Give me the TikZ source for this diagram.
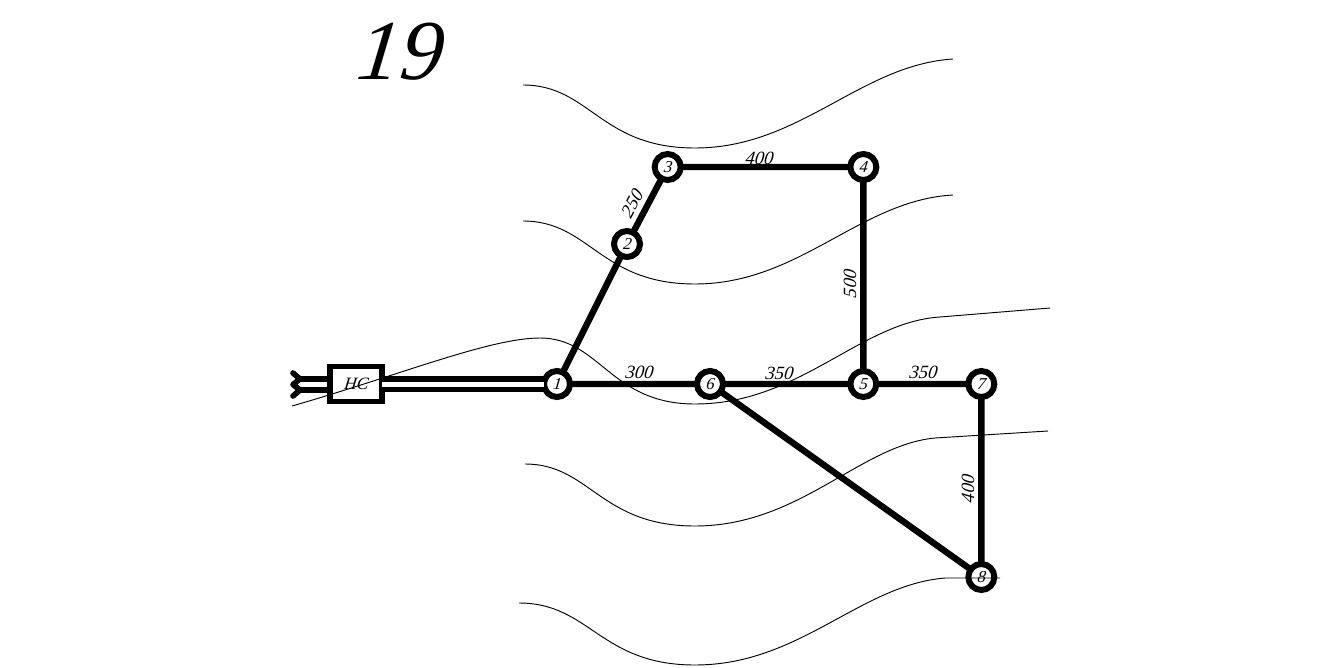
\documentclass[tikz,border=0pt]{standalone}
\usepackage{fontspec}
\setmainfont[ItalicFeatures={FakeSlant=0.12}]{Liberation Serif}
\usetikzlibrary{positioning}
\tikzset{
    vtx/.style={circle,draw,fill=white,line width=4.5pt,minimum size=19.5pt,inner sep=0pt,outer sep=0pt,font=\fontsize{12.5pt}{12.5pt}\selectfont\itshape},
    pipe/.style={line width=4.8pt},
    lbl/.style={font=\fontsize{14pt}{14pt}\selectfont\itshape,inner sep=0pt},
    contour/.style={line width=0.7pt},
    station/.style={rectangle,draw,line width=4pt,minimum width=39pt,minimum height=26pt,inner sep=0pt,outer sep=0pt,font=\fontsize{13pt}{13pt}\selectfont\itshape}
}
\begin{document}
\begin{tikzpicture}[x=0.75pt,y=-0.75pt,on grid]
    \useasboundingbox (0,0) rectangle (1340,668);
    \node[vtx] (v1) at (557,384) {1};
    \node[vtx,right=114.75pt of v1] (v6) {6};
    \node[vtx,right=115pt of v6] (v5) {5};
    \node[vtx,right=88.5pt of v5] (v7) {7};
    \node[vtx,below=144.75pt of v7] (v8) {8};
    \node[vtx,above=162.75pt of v5] (v4) {4};
    \node[vtx,left=146.75pt of v4] (v3) {3};
    \node[vtx] (v2) at (627,244) {2};
    \node[station,left=150.75pt of v1] (hc) {НС};
    \node[lbl,font=\itshape\fontsize{64pt}{64pt}\selectfont] (title) at (398,52) {19};

    \draw[pipe] (v1) -- (v2) (v2) -- (v3) (v3) -- (v4) (v4) -- (v5);
    \draw[pipe] (v1) -- (v6) (v6) -- (v5) (v5) -- (v7) (v7) -- (v8) (v6) -- (v8);
    \draw[double,double distance=3.75pt,line width=4.2pt] (hc) -- (v1);

    % inlet stub
    \coordinate (s1) at (300,379);
    \coordinate (s2) at (300,390);
    \draw[line width=4.2pt,line cap=round,line join=round] (hc.west |- s1) -- (s1) -- (293,373);
    \draw[line width=4.2pt,line cap=round,line join=round] (hc.west |- s2) -- (s2) -- (293,396);
    \draw[line width=4.2pt,line cap=round,line join=round] (s1) -- (293,384.5) -- (s2);

    \node[lbl] (l23) at (632,204) [rotate=62] {250};
    \node[lbl] (l34) at (759,158) {400};
    \node[lbl] (l45) at (850,284) [rotate=90] {500};
    \node[lbl] (l16) at (639,372) {300};
    \node[lbl] (l65) at (779,373) {350};
    \node[lbl] (l57) at (923,372) {350};
    \node[lbl] (l78) at (968,489) [rotate=90] {400};

    % contours
    \draw[contour] (523,85) .. controls (590,85) and (600,148) .. (695,148) .. controls (800,148) and (860,65) .. (953,59);
    \draw[contour] (523,221) .. controls (590,221) and (600,284) .. (695,284) .. controls (800,284) and (860,200) .. (953,195);
    \draw[contour] (292,406) .. controls (400,375) and (490,338) .. (540,338) .. controls (600,338) and (610,404) .. (695,404) .. controls (800,404) and (860,322) .. (940,317) -- (1050,308);
    \draw[contour] (525,464) .. controls (590,464) and (600,526) .. (695,526) .. controls (800,526) and (860,445) .. (935,438) -- (1048,431);
    \draw[contour] (519,603) .. controls (590,603) and (600,665) .. (695,665) .. controls (800,665) and (860,585) .. (945,578) -- (1000,578);
\end{tikzpicture}
\end{document}
